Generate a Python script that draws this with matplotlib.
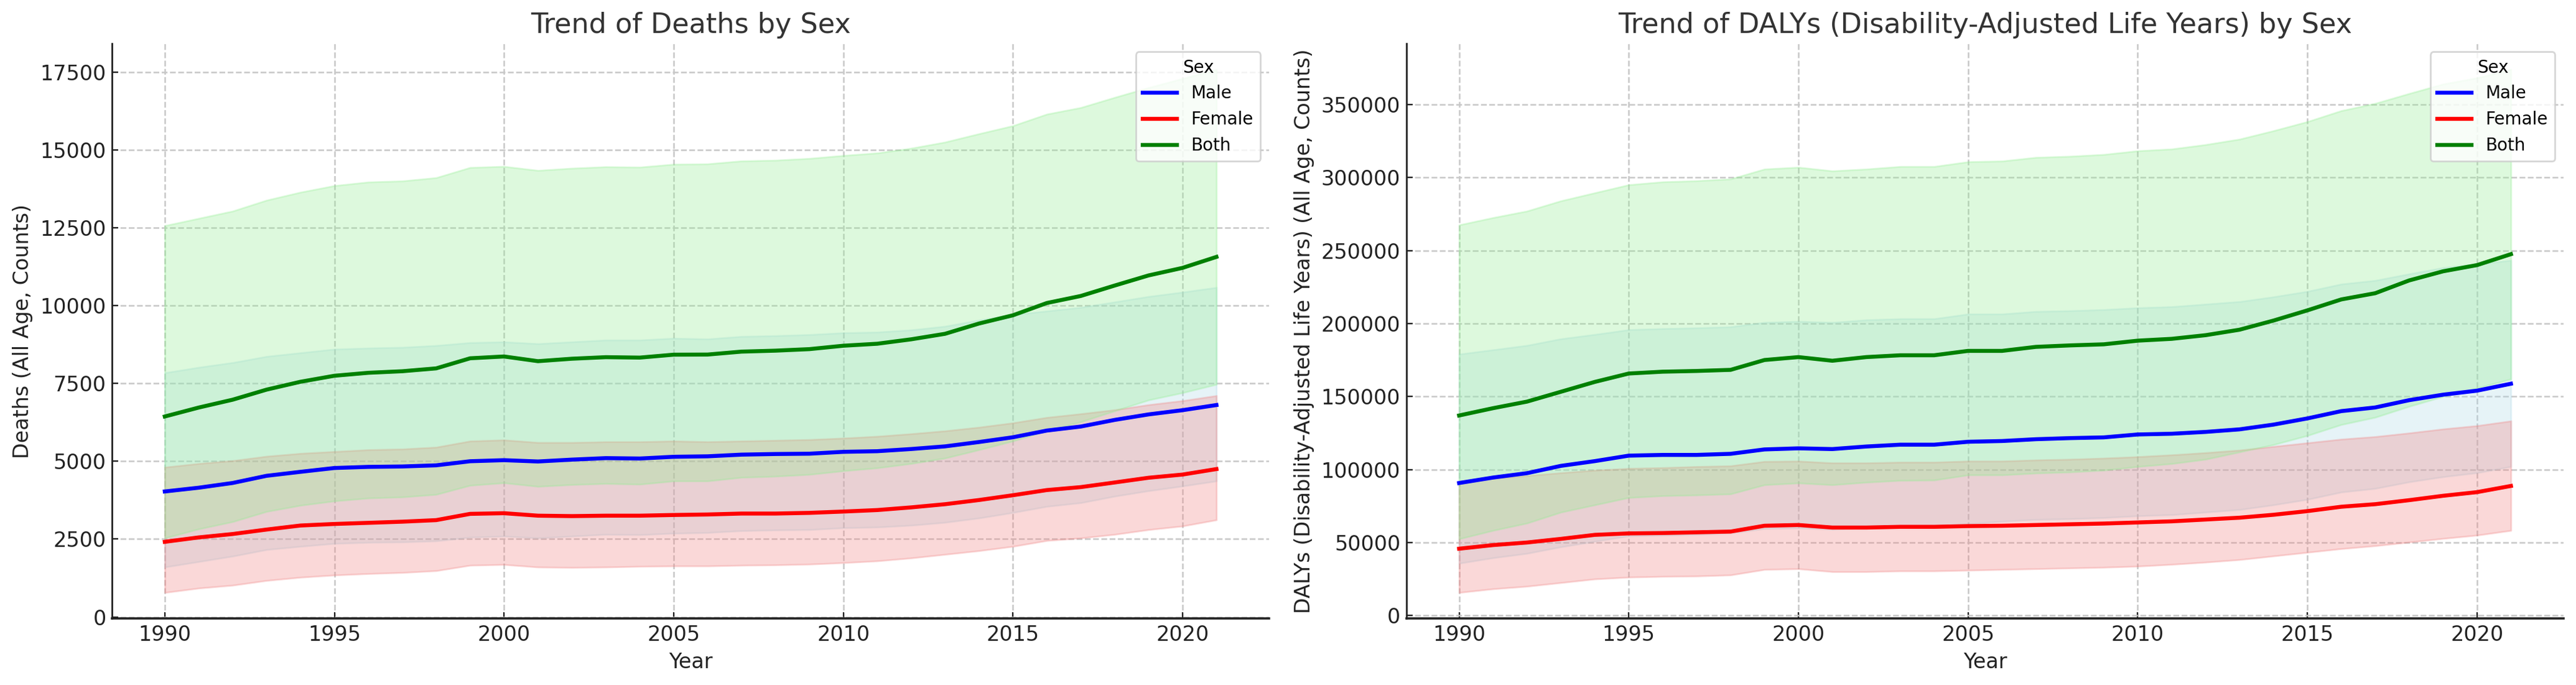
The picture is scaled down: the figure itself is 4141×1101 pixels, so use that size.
import matplotlib
matplotlib.use("Agg")
import matplotlib.pyplot as plt
import numpy as np

years = list(range(1990, 2022))
sexes = ["Male", "Female", "Both"]
colors = {"Male": "blue", "Female": "red", "Both": "green"}
band_colors = {"Male": "lightblue", "Female": "lightcoral", "Both": "lightgreen"}

# ---- Deaths (All Age, Counts) ----
deaths_male = [4027, 4148, 4300, 4530, 4658, 4781, 4817, 4830, 4867, 4998, 5032, 4990, 5050, 5098, 5085, 5141,
               5156, 5210, 5230, 5240, 5300, 5320, 5390, 5475, 5615, 5767, 5983, 6112, 6325, 6502, 6637, 6803]
deaths_male_upper = [7839, 8014, 8166, 8364, 8481, 8597, 8632, 8656, 8714, 8807, 8831, 8772, 8831, 8889, 8889, 8947,
                     8924, 9005, 9029, 9064, 9122, 9145, 9215, 9332, 9530, 9705, 9822, 9938, 10113, 10288, 10428, 10580]
deaths_male_lower = [1598, 1773, 1948, 2158, 2263, 2356, 2391, 2403, 2438, 2555, 2590, 2531, 2590, 2648, 2636, 2683,
                     2706, 2765, 2788, 2800, 2858, 2881, 2940, 3033, 3173, 3348, 3546, 3663, 3873, 4048, 4199, 4363]
deaths_female = [2410, 2552, 2661, 2804, 2934, 2984, 3020, 3057, 3107, 3308, 3329, 3250, 3236, 3250, 3250, 3272,
                 3288, 3318, 3318, 3340, 3382, 3430, 3516, 3618, 3752, 3906, 4072, 4167, 4316, 4468, 4570, 4747]
deaths_female_upper = [4806, 4923, 5016, 5156, 5249, 5308, 5366, 5389, 5448, 5646, 5681, 5599, 5599, 5622, 5622, 5646,
                       5622, 5646, 5669, 5692, 5739, 5797, 5879, 5972, 6089, 6229, 6404, 6521, 6649, 6812, 6941, 7104]
deaths_female_lower = [782, 922, 1015, 1167, 1271, 1341, 1388, 1423, 1481, 1656, 1680, 1598, 1586, 1598, 1621, 1633,
                       1633, 1656, 1668, 1691, 1738, 1796, 1890, 2006, 2123, 2263, 2450, 2531, 2648, 2800, 2916, 3115]
deaths_both = [6435, 6722, 6974, 7297, 7550, 7743, 7838, 7888, 7980, 8304, 8362, 8211, 8290, 8340, 8326, 8420,
               8424, 8518, 8549, 8598, 8707, 8771, 8913, 9090, 9420, 9684, 10079, 10305, 10640, 10965, 11207, 11560]
deaths_both_upper = [12563, 12797, 13030, 13380, 13637, 13847, 13963, 13998, 14103, 14430, 14465, 14336, 14406, 14453,
                     14441, 14534, 14546, 14640, 14663, 14721, 14815, 14896, 15048, 15246, 15514, 15771, 16144, 16354,
                     16681, 16996, 17288, 17579]
deaths_both_lower = [2531, 2823, 3056, 3383, 3581, 3721, 3814, 3849, 3931, 4223, 4304, 4188, 4246, 4281, 4258, 4363,
                     4363, 4479, 4514, 4573, 4689, 4783, 4923, 5098, 5366, 5646, 5972, 6264, 6614, 6964, 7197, 7466]

# ---- DALYs (All Age, Counts) ----
dalys_male = [90750, 94500, 97500, 102500, 105750, 109500, 110000, 110000, 110750, 113750, 114500, 114000, 115750,
              117000, 117000, 119000, 119500, 120750, 121500, 122000, 124000, 124500, 125750, 127500, 130750, 135000,
              140000, 142500, 147500, 151250, 154000, 158750]
dalys_male_upper = [179000, 182000, 185000, 189500, 192500, 195750, 196500, 197000, 197750, 200750, 201500, 200750,
                    202500, 203250, 203250, 206500, 206500, 208250, 208750, 209500, 210750, 211500, 213250, 215000,
                    218250, 222000, 227000, 229500, 234000, 238250, 240750, 243250]
dalys_male_lower = [35750, 39500, 42500, 47000, 50750, 54500, 55000, 55500, 56500, 59500, 60000, 59000, 60250, 61500,
                    61500, 62750, 64500, 65750, 66250, 67000, 68250, 69000, 70750, 72500, 75750, 79500, 84500, 87000,
                    91500, 95000, 97750, 102000]
dalys_female = [45750, 48250, 50000, 52500, 55250, 56250, 56500, 57000, 57500, 61500, 62000, 60250, 60250, 60750,
                60750, 61250, 61500, 62000, 62500, 63000, 63750, 64500, 65750, 67000, 69000, 71500, 74500, 76250,
                79000, 82000, 84500, 88750]
dalys_female_upper = [92000, 94000, 95750, 97750, 99500, 100750, 101250, 102000, 102500, 105500, 105750, 104500,
                      104500, 105000, 105000, 105750, 105750, 106500, 107000, 107750, 108750, 110000, 111500, 113250,
                      115750, 118250, 120750, 122500, 125000, 127750, 130000, 133250]
dalys_female_lower = [15750, 18250, 20000, 22500, 25000, 26250, 26750, 27000, 27750, 31500, 32000, 30000, 30000, 30500,
                      30500, 31000, 31500, 32000, 32500, 33000, 33750, 35000, 36500, 38250, 40750, 43250, 45750, 47750,
                      50250, 52750, 55000, 58250]
dalys_both = [137000, 142000, 146500, 153250, 160000, 165750, 167000, 167500, 168250, 175000, 177000, 174500, 177000,
              178250, 178250, 181250, 181250, 184000, 185000, 185750, 188250, 189500, 192000, 195750, 202000, 209000,
              216500, 220750, 229500, 235750, 240000, 247500]
dalys_both_upper = [267500, 272500, 277000, 284000, 289500, 295000, 297000, 297750, 299000, 305750, 307000, 304500,
                    305750, 307500, 307500, 310750, 311250, 313750, 314500, 315750, 318250, 319500, 322500, 326250,
                    332000, 338250, 345750, 350750, 357500, 364000, 368250, 374000]
dalys_both_lower = [52500, 58250, 63250, 70750, 75750, 80750, 82000, 82500, 83250, 89500, 90750, 89500, 91250, 92500,
                    92750, 96250, 96250, 97500, 98250, 99500, 102000, 104000, 107000, 112000, 117000, 123250, 130750,
                    135750, 143250, 150000, 155750, 162000]

deaths = {
    "Male": (deaths_male, deaths_male_lower, deaths_male_upper),
    "Female": (deaths_female, deaths_female_lower, deaths_female_upper),
    "Both": (deaths_both, deaths_both_lower, deaths_both_upper),
}
dalys = {
    "Male": (dalys_male, dalys_male_lower, dalys_male_upper),
    "Female": (dalys_female, dalys_female_lower, dalys_female_upper),
    "Both": (dalys_both, dalys_both_lower, dalys_both_upper),
}

plt.rcParams["font.family"] = ["DejaVu Sans"]
plt.rcParams["font.size"] = 12

W, H, DPI = 4141, 1101, 200
fig = plt.figure(figsize=(W / DPI, H / DPI), dpi=DPI)
ax1 = fig.add_axes([180.4 / W, 1 - 994.4 / H, (2040 - 180.4) / W, (994.4 - 69.6) / H])
ax2 = fig.add_axes([2261 / W, 1 - 994.4 / H, (4121 - 2261) / W, (994.4 - 69.6) / H])

panels = [
    (ax1, deaths, "Trend of Deaths by Sex", "Deaths (All Age, Counts)"),
    (ax2, dalys, "Trend of DALYs (Disability-Adjusted Life Years) by Sex",
     "DALYs (Disability-Adjusted Life Years) (All Age, Counts)"),
]

for ax, data, title, ylabel in panels:
    for s in sexes:
        val, lo, up = data[s]
        ax.fill_between(years, lo, up, color=band_colors[s], alpha=0.3, zorder=1)
    for s in sexes:
        val, lo, up = data[s]
        ax.plot(years, val, color=colors[s], linewidth=2.3, label=s, zorder=3,
                solid_joinstyle="round")
    ax.set_title(title, fontsize=16, color="#333333")
    ax.set_xlabel("Year", fontsize=12, color="#222222")
    ax.set_ylabel(ylabel, fontsize=12, color="#222222")
    ax.grid(True, linestyle="--", color="#c8c8c8", linewidth=0.9)
    ax.set_axisbelow(True)
    for sp in ["top", "right"]:
        ax.spines[sp].set_visible(False)
    for sp in ["left", "bottom"]:
        ax.spines[sp].set_color("#222222")
        ax.spines[sp].set_linewidth(1.0)
    ax.spines["bottom"].set_linewidth(1.3)
    ax.tick_params(direction="in", labelsize=12, colors="#222222", length=3.5)
    leg = ax.legend(title="Sex", fontsize=10, title_fontsize=10, loc="upper right",
                    framealpha=0.8, edgecolor="#cccccc")

fig.savefig("out.png", dpi=DPI)
